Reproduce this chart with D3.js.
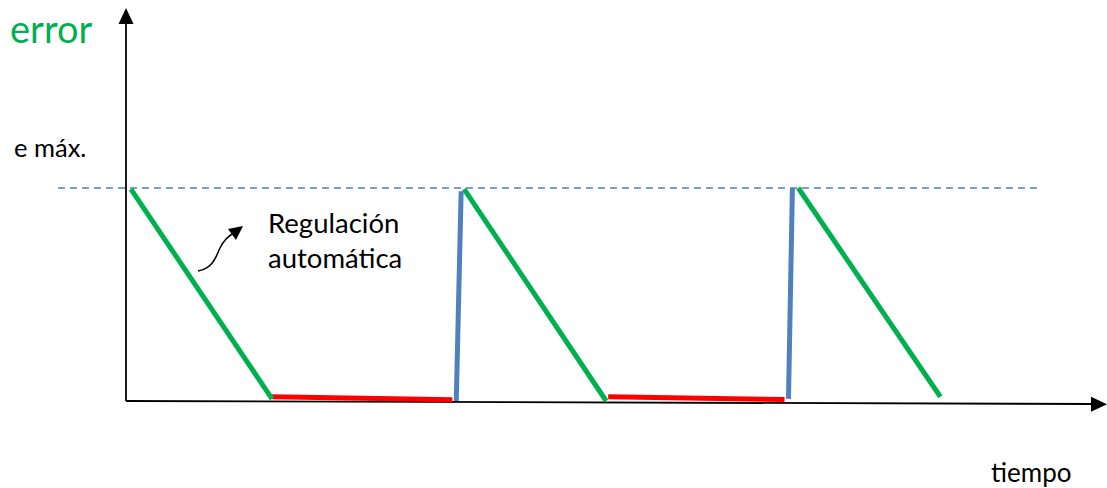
<!DOCTYPE html>
<html>
<head>
<meta charset="utf-8">
<script src="https://cdn.jsdelivr.net/npm/d3@7"></script>
<style>
  html, body { margin: 0; padding: 0; background: #fff; }
  svg { display: block; }
  text { font-family: Lato, "Open Sans", sans-serif; }
</style>
</head>
<body>
<svg id="chart" width="1107" height="488"></svg>
<script>
// Error of a regulated variable over time (arbitrary units, e max = 1)
const regulationSegments = [   // green: automatic regulation pulls error down
  [[0.5, 0.995], [14.9, 0.01]],
  [[34.5, 0.995], [49.0, 0.0]],
  [[68.6, 1.0], [83.1, 0.02]]
];
const idleSegments = [         // red: error stays near zero
  [[14.9, 0.02], [33.3, 0.006]],
  [[49.2, 0.02], [67.2, 0.007]]
];
const disturbanceSegments = [  // blue: sudden jump back to e max
  [[33.7, 0.0], [34.2, 0.985]],
  [[67.6, 0.01], [68.0, 1.0]]
];
const eMax = 1;
const labels = { yTitle: "error", xTitle: "tiempo", eMax: "e máx.", note: ["Regulación", "automática"] };

const svg = d3.select("#chart");
const x = d3.scaleLinear().domain([0, 100]).range([126, 1106]);
const y = d3.scaleLinear().domain([0, 1]).range([401, 188]);

const line = d3.line().x(d => x(d[0])).y(d => y(d[1]));

// e max reference line
svg.append("line")
  .attr("x1", 58).attr("x2", 1042)
  .attr("y1", y(eMax)).attr("y2", y(eMax))
  .attr("stroke", "#4f81bd").attr("stroke-width", 1.3)
  .attr("stroke-dasharray", "7,5");

// axes
const axisColor = "#000";
svg.append("line").attr("x1", x(0)).attr("x2", x(0)).attr("y1", y(0)).attr("y2", 22)
  .attr("stroke", axisColor).attr("stroke-width", 1.8);
svg.append("path").attr("d", `M${x(0)},8 L${x(0) - 7.5},24 L${x(0) + 7.5},24 Z`).attr("fill", axisColor);

svg.append("line").attr("x1", x(0)).attr("x2", 1093).attr("y1", y(0)).attr("y2", 404)
  .attr("stroke", axisColor).attr("stroke-width", 1.8);
svg.append("path").attr("d", `M1107,404.3 L1091,396.8 L1091,411.8 Z`).attr("fill", axisColor);

// series
function draw(data, color) {
  svg.append("g").selectAll("path").data(data).join("path")
    .attr("d", line)
    .attr("fill", "none")
    .attr("stroke", color)
    .attr("stroke-width", 5);
}
draw(idleSegments, "#ff0000");
draw(disturbanceSegments, "#4f81bd");
draw(regulationSegments, "#00b050");

// labels
svg.append("text").attr("x", 10).attr("y", 43).attr("fill", "#00b050")
  .attr("font-size", 38).text(labels.yTitle);
svg.append("text").attr("x", 14).attr("y", 157).attr("fill", "#000")
  .attr("font-size", 25.5).text(labels.eMax);
svg.append("text").attr("x", 991).attr("y", 482).attr("fill", "#000")
  .attr("font-size", 26).text(labels.xTitle);
svg.append("text").attr("x", 268).attr("y", 233).attr("fill", "#000")
  .attr("font-size", 27.5).text(labels.note[0]);
svg.append("text").attr("x", 268).attr("y", 268).attr("fill", "#000")
  .attr("font-size", 27.5).text(labels.note[1]);

// curved pointer toward the note
svg.append("path")
  .attr("d", "M198,271 C214,268 216,256 220,248 C224,240 228,236 234,233")
  .attr("fill", "none").attr("stroke", "#000").attr("stroke-width", 1.5);
svg.append("path")
  .attr("d", "M243,226 L228,229 L236,240 Z")
  .attr("fill", "#000");
</script>
</body>
</html>
